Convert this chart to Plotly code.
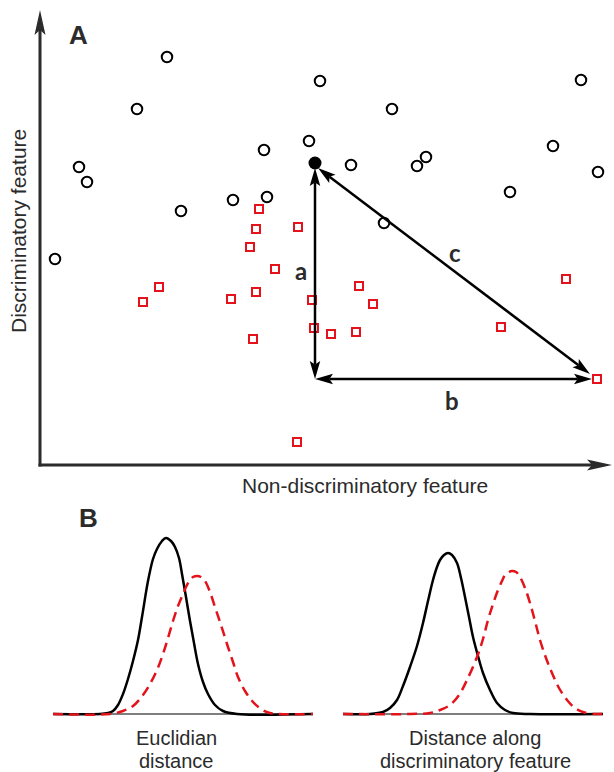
import math
import plotly.graph_objects as go

# ---------------- Panel A data (arbitrary feature units) ----------------
circle_x = [12.7, 9.7, 3.9, 4.7, 14.1, 19.3, 22.4, 22.7, 26.9, 28.0,
            35.2, 31.1, 38.6, 37.7, 54.1, 51.3, 55.8, 47.0, 34.4, 1.5]
circle_y = [40.8, 35.6, 29.8, 28.3, 25.4, 26.5, 31.5, 26.8, 32.4, 38.4,
            35.6, 30.0, 30.8, 29.9, 38.5, 31.9, 29.3, 27.3, 24.2, 20.6]

square_x = [21.9, 21.6, 25.8, 21.0, 23.5, 11.9, 10.3, 19.1, 21.6, 27.2,
            27.4, 21.3, 25.7, 31.9, 33.3, 29.1, 31.6, 46.1, 52.6, 55.7]
square_y = [25.6, 23.6, 23.8, 21.8, 19.6, 17.8, 16.3, 16.6, 17.3, 16.5,
            13.7, 12.6, 2.3, 17.9, 16.1, 13.1, 13.3, 13.8, 18.6, 8.6]

ref_x = [27.5]
ref_y = [30.2]

# distance arrows: a (vertical), b (horizontal), c (euclidean)
arrow_names = ["a", "b", "c"]
arrow_x0 = [27.5, 27.5, 27.8]
arrow_y0 = [29.7, 8.6, 29.7]
arrow_x1 = [27.5, 55.2, 55.0]
arrow_y1 = [8.6, 8.6, 9.1]
label_x = [26.1, 41.2, 41.5]
label_y = [19.5, 6.5, 21.3]

# ---------------- Panel B data ----------------
eu_black_x = [0, 4.7, 5.5, 6.0, 6.5, 7.0, 7.5, 8.0, 8.5, 8.9, 9.5, 10.0, 10.4, 10.9, 11.3, 11.8, 12.2, 12.6,
              12.9, 13.3, 13.7, 14.1, 14.5, 15.0, 15.5, 16.2, 17.0, 18.4, 26]
eu_black_y = [0, 0, 0.1, 0.3, 0.9, 2.0, 3.5, 5.3, 7.4, 9.7, 13.3, 15.5, 16.5, 17.3, 17.6, 17.3, 16.7, 15.6,
              14.0, 11.7, 9.3, 7.1, 5.0, 3.2, 2.0, 0.9, 0.3, 0, 0]
eu_red_x = [0, 5.7, 7.0, 8.0, 9.0, 9.7, 10.4, 11.0, 11.5, 12.0, 12.5, 13.0, 13.4, 13.7, 14.0, 14.4, 14.8, 15.2,
            15.7, 16.2, 16.8, 17.4, 18.0, 18.5, 19.2, 20.0, 20.8, 21.7, 26]
eu_red_y = [0, 0, 0.3, 0.8, 1.9, 3.0, 4.4, 6.0, 7.6, 9.3, 10.8, 12.0, 12.9, 13.4, 13.7, 13.8, 13.7, 13.3,
            12.2, 10.7, 8.9, 7.0, 5.2, 3.7, 2.3, 1.2, 0.5, 0.1, 0]

dd_black_x = [0, 2.7, 4.0, 4.7, 5.4, 6.0, 6.7, 7.4, 8.0, 8.5, 9.0, 9.4, 9.7, 10.1, 10.5, 10.9, 11.4, 11.8,
              12.2, 12.6, 13.0, 13.5, 14.0, 14.7, 15.4, 16.2, 17.0, 18.7, 26]
dd_black_y = [0, 0, 0.2, 0.6, 1.4, 2.8, 4.7, 6.8, 9.1, 11.3, 13.4, 14.7, 15.4, 15.9, 16.1, 15.9, 15.1, 13.6,
              11.7, 9.7, 7.7, 5.8, 4.1, 2.4, 1.1, 0.4, 0.1, 0, 0]
dd_red_x = [0, 6.7, 8.7, 9.7, 10.7, 11.6, 12.4, 13.4, 14.0, 14.5, 15.0, 15.5, 15.9, 16.2, 16.6, 16.9, 17.3,
            17.7, 18.2, 18.7, 19.2, 19.7, 20.3, 20.9, 21.6, 22.4, 23.2, 24.0, 25.4, 26]
dd_red_y = [0, 0, 0.1, 0.4, 0.9, 1.9, 3.4, 5.7, 7.5, 9.4, 11.0, 12.4, 13.3, 13.9, 14.2, 14.3, 14.2,
            13.7, 12.6, 11.1, 9.3, 7.4, 5.6, 4.1, 2.6, 1.4, 0.6, 0.2, 0, 0]

W, H = 614, 772
INK = "#2b2b2b"
RED = "#e3121b"

fig = go.Figure()

# Panel A markers
fig.add_trace(go.Scatter(x=circle_x, y=circle_y, mode="markers", cliponaxis=False,
                         marker=dict(symbol="circle-open", size=10.5, color="black",
                                     line=dict(width=2, color="black")),
                         xaxis="x", yaxis="y"))
fig.add_trace(go.Scatter(x=square_x, y=square_y, mode="markers", cliponaxis=False,
                         marker=dict(symbol="square-open", size=8, color=RED,
                                     line=dict(width=2, color=RED)),
                         xaxis="x", yaxis="y"))
fig.add_trace(go.Scatter(x=ref_x, y=ref_y, mode="markers", cliponaxis=False,
                         marker=dict(symbol="circle", size=13, color="black"),
                         xaxis="x", yaxis="y"))

# Panel B curves
for (bx, by, rx, ry, xa, ya) in [(eu_black_x, eu_black_y, eu_red_x, eu_red_y, "x2", "y2"),
                                 (dd_black_x, dd_black_y, dd_red_x, dd_red_y, "x3", "y3")]:
    fig.add_trace(go.Scatter(x=bx, y=by, mode="lines",
                             line=dict(color="black", width=2.5, shape="spline", smoothing=1.0),
                             xaxis=xa, yaxis=ya))
    fig.add_trace(go.Scatter(x=rx, y=ry, mode="lines",
                             line=dict(color=RED, width=2.5, dash="10px,6px", shape="spline", smoothing=1.0),
                             xaxis=xa, yaxis=ya))

shapes = []


def head(tx, ty, dx, dy, length, width, color, xr="x", yr="y"):
    # stealth-like arrowhead with tip at (tx, ty) pointing along (dx, dy)
    n = math.hypot(dx, dy)
    ux, uy = dx / n, dy / n
    px, py = -uy, ux
    bx, by = tx - ux * length, ty - uy * length
    nx, ny = tx - ux * length * 0.8, ty - uy * length * 0.8
    p = (f"M {tx},{ty} L {bx + px * width / 2},{by + py * width / 2} "
         f"L {nx},{ny} L {bx - px * width / 2},{by - py * width / 2} Z")
    shapes.append(dict(type="path", path=p, xref=xr, yref=yr,
                       fillcolor=color, line=dict(width=0), layer="above"))
    return nx, ny


def arrow(x0, y0, x1, y1, both, length, width, lw, color):
    dx, dy = x1 - x0, y1 - y0
    ex, ey = head(x1, y1, dx, dy, length, width, color)
    sx, sy = x0, y0
    if both:
        sx, sy = head(x0, y0, -dx, -dy, length, width, color)
    shapes.append(dict(type="line", x0=sx, y0=sy, x1=ex, y1=ey, xref="x", yref="y",
                       line=dict(color=color, width=lw), layer="above"))


# axes with arrowheads (1 data unit = 10 px)
arrow(0, -0.15, 0, 45.5, False, 2.5, 1.1, 3, INK)
arrow(-0.15, 0, 57.2, 0, False, 2.5, 1.1, 3, INK)

for i in range(len(arrow_names)):
    arrow(arrow_x0[i], arrow_y0[i], arrow_x1[i], arrow_y1[i], True, 1.8, 1.05, 2.5, "black")

# baselines of panel B
for xr, yr in [("x2", "y2"), ("x3", "y3")]:
    shapes.append(dict(type="line", x0=0, x1=26, y0=0, y1=0, xref=xr, yref=yr,
                       line=dict(color="#555555", width=1.5), layer="below"))

annotations = []
for i, n in enumerate(arrow_names):
    annotations.append(dict(x=label_x[i], y=label_y[i], xref="x", yref="y", text=f"<b>{n}</b>",
                            showarrow=False, font=dict(family="Lato", size=24, color=INK)))


def ptext(x, y, text, size, angle=0, bold=False):
    annotations.append(dict(x=x / W, y=1 - y / H, xref="paper", yref="paper",
                            text=f"<b>{text}</b>" if bold else text, showarrow=False,
                            textangle=angle, xanchor="center", yanchor="middle", borderpad=0,
                            font=dict(family="Liberation Sans, Arial", size=size, color=INK)))


ptext(78, 35, "A", 26, bold=True)
ptext(88, 518, "B", 26, bold=True)
ptext(19, 231, "Discriminatory feature", 21, angle=-90)
ptext(365, 485, "Non-discriminatory feature", 21)
ptext(176, 738, "Euclidian", 20)
ptext(176, 761, "distance", 20)
ptext(475, 738, "Distance along", 20)
ptext(475, 761, "discriminatory feature", 20)

hid = dict(visible=False, showgrid=False, zeroline=False)
fig.update_layout(
    width=W, height=H, margin=dict(l=0, r=0, t=0, b=0),
    paper_bgcolor="white", plot_bgcolor="white", showlegend=False,
    xaxis=dict(domain=[25 / W, 1], range=[-1.5, 57.4], **hid),
    yaxis=dict(domain=[1 - 480 / H, 1], range=[-1.5, 46.5], **hid),
    xaxis2=dict(domain=[53 / W, 313 / W], range=[0, 26], anchor="y2", **hid),
    yaxis2=dict(domain=[1 - 719 / H, 1 - 529 / H], range=[-0.5, 18.5], anchor="x2", **hid),
    xaxis3=dict(domain=[343 / W, 603 / W], range=[0, 26], anchor="y3", **hid),
    yaxis3=dict(domain=[1 - 719 / H, 1 - 529 / H], range=[-0.5, 18.5], anchor="x3", **hid),
    shapes=shapes, annotations=annotations,
)

fig.write_html("out.html", config={"displayModeBar": False},
               post_script="document.body.style.margin='0';document.body.style.overflow='hidden';")
